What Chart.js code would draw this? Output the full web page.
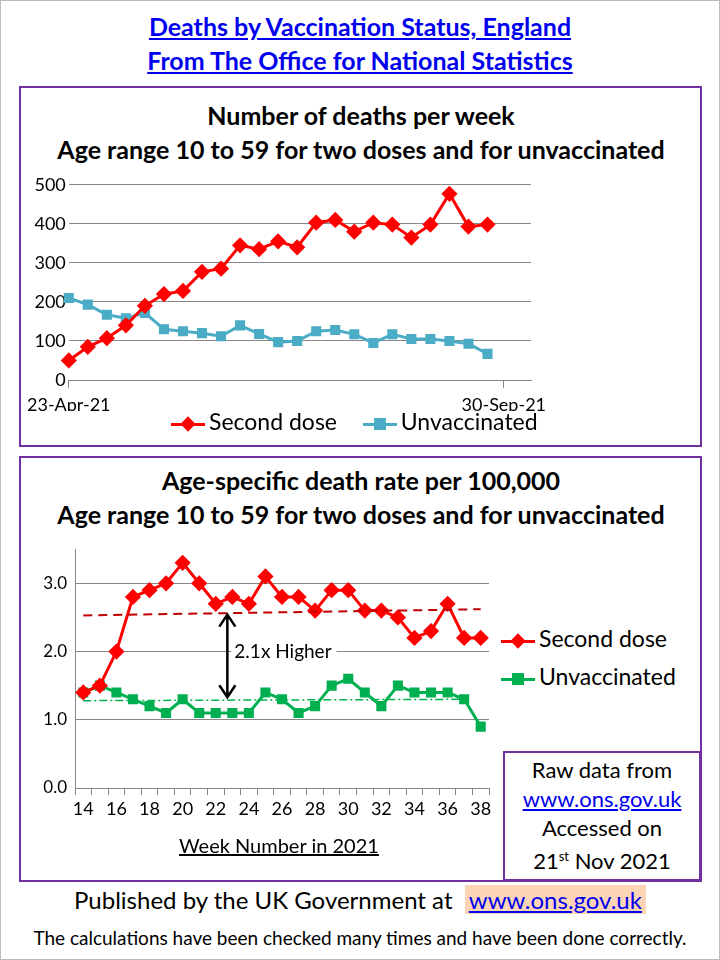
<!DOCTYPE html>
<html>
<head>
<meta charset="utf-8">
<script src="https://cdn.jsdelivr.net/npm/chart.js@4"></script>
<style>
  body { margin: 0; background: #fff; font-family: Lato, "Open Sans", sans-serif; }
  #page { position: relative; width: 718px; height: 958px; border: 1px solid #bbb; overflow: hidden; }
  .abs { position: absolute; }
  .title { left: 0; width: 718px; text-align: center; color: #0000ee; font-weight: bold; font-size: 25px; text-decoration: underline; line-height: 34px; }
  .panel { border: 2.5px solid #7030a0; }
  .ptitle { width: 680px; text-align: center; font-weight: bold; font-size: 25px; line-height: 34px; color: #000; }
  .leg { font-size: 23px; white-space: nowrap; }
  .sw { display: inline-block; position: relative; width: 34px; height: 14px; vertical-align: middle; margin-right: 4px; }
  .sw i { position: absolute; left: 0; right: 0; top: 6px; height: 3px; }
  .sw b { position: absolute; left: 11px; top: 1px; width: 12px; height: 12px; }
  canvas { position: absolute; }
</style>
</head>
<body>
<div id="page">
  <div class="abs title" style="top:8px">Deaths by Vaccination Status, England<br>From The Office for National Statistics</div>

  <div class="abs panel" style="left:18px;top:85px;width:679px;height:357px"></div>
  <div class="abs ptitle" style="left:20px;top:97px">Number of deaths per week<br>Age range 10 to 59 for two doses and for unvaccinated</div>
  <canvas id="c1" style="left:20px;top:170px;width:680px;height:240px"></canvas>
  <div class="abs leg" style="left:170px;top:406px">
    <span class="sw"><i style="background:#ff0000"></i><b style="background:#ff0000;transform:rotate(45deg) scale(0.9)"></b></span>Second dose
    <span style="display:inline-block;width:14px"></span>
    <span class="sw"><i style="background:#4bacc6"></i><b style="background:#4bacc6"></b></span>Unvaccinated
  </div>

  <div class="abs panel" style="left:18px;top:455px;width:679px;height:422px"></div>
  <div class="abs ptitle" style="left:20px;top:462px">Age-specific death rate per 100,000<br>Age range 10 to 59 for two doses and for unvaccinated</div>
  <canvas id="c2" style="left:20px;top:530px;width:480px;height:330px"></canvas>
  <div class="abs" style="left:178px;top:832px;font-size:20px;text-decoration:underline">Week Number in 2021</div>
  <div class="abs leg" style="left:500px;top:618px;line-height:38px">
    <span class="sw"><i style="background:#ff0000"></i><b style="background:#ff0000;transform:rotate(45deg) scale(0.9)"></b></span>Second dose<br>
    <span class="sw"><i style="background:#00b050"></i><b style="background:#00b050"></b></span>Unvaccinated
  </div>
  <div class="abs panel" style="left:502px;top:750px;width:194px;height:126px;background:#fff"></div>
  <div class="abs" style="left:504px;top:754px;width:194px;text-align:center;font-size:22px;line-height:29px">Raw data from<br><span style="color:#0000ee;text-decoration:underline">www.ons.gov.uk</span><br>Accessed on<br>21<sup style="font-size:13px">st</sup> Nov 2021</div>

  <div class="abs" style="left:0;width:718px;top:884px;text-align:center;font-size:24px">Published by the UK Government at &nbsp;<span style="color:#0000ee;text-decoration:underline;background:#fbd5b5;padding:0 4px">www.ons.gov.uk</span></div>
  <div class="abs" style="left:0;width:718px;top:925px;text-align:center;font-size:19px">The calculations have been checked many times and have been done correctly.</div>
</div>
<script>
// ---- top chart data (weekly, from 23-Apr-21) ----
const weeklyDays = [0,7,14,21,28,35,42,49,56,63,70,77,84,91,98,105,112,119,126,133,140,147,154]
const deathsSecondDose = [50,85,107,140,190,220,228,277,285,345,335,355,340,403,410,380,403,398,365,398,477,393,398]
const deathsUnvaccinated = [210,193,167,158,172,130,125,120,112,140,118,97,100,125,128,117,95,117,105,105,100,93,67]
const dateTicks = [0, 160]
const dateTickLabels = ['23-Apr-21', '30-Sep-21']

// ---- bottom chart data (week numbers 14..38) ----
const weekNumbers = ['14','15','16','17','18','19','20','21','22','23','24','25','26','27','28','29','30','31','32','33','34','35','36','37','38']
const rateSecondDose = [1.4,1.5,2.0,2.8,2.9,3.0,3.3,3.0,2.7,2.8,2.7,3.1,2.8,2.8,2.6,2.9,2.9,2.6,2.6,2.5,2.2,2.3,2.7,2.2,2.2]
const rateUnvaccinated = [1.4,1.5,1.4,1.3,1.2,1.1,1.3,1.1,1.1,1.1,1.1,1.4,1.3,1.1,1.2,1.5,1.6,1.4,1.2,1.5,1.4,1.4,1.4,1.3,0.9]
const trendSecondDose = [2.53, 2.62]
const trendUnvaccinated = [1.28, 1.30]
const arrowSpan = [2.57, 1.30]
const arrowWeek = 8.7   // index position between weeks 22 and 23
const ratioLabel = '2.1x Higher'

const FONT = 'Lato, "Open Sans", sans-serif'
Chart.defaults.font.family = FONT
Chart.defaults.color = '#000'
Chart.defaults.animation = false

new Chart(document.getElementById('c1'), {
  type: 'line',
  data: {
    datasets: [{
      data: weeklyDays.map((d, i) => ({ x: d, y: deathsSecondDose[i] })),
      borderColor: '#ff0000', backgroundColor: '#ff0000', borderWidth: 3,
      pointStyle: 'rectRot', pointRadius: 6, clip: false
    }, {
      data: weeklyDays.map((d, i) => ({ x: d, y: deathsUnvaccinated[i] })),
      borderColor: '#4bacc6', backgroundColor: '#4bacc6', borderWidth: 3,
      pointStyle: 'rect', pointRadius: 5, clip: false
    }]
  },
  options: {
    responsive: false,
    layout: { padding: { top: 13, right: 170 } },
    plugins: { legend: { display: false }, tooltip: { enabled: false } },
    scales: {
      x: {
        type: 'linear', min: 0, max: 170,
        afterBuildTicks: s => { s.ticks = dateTicks.map(v => ({ value: v })) },
        afterFit: s => { s.height = 31 },
        ticks: { font: { size: 18 }, callback: (v, i) => dateTickLabels[i], padding: 6 },
        grid: { drawOnChartArea: false, color: '#888', tickLength: 8 },
        border: { color: '#888' }
      },
      y: {
        min: 0, max: 500,
        afterFit: s => { s.width = 47 },
        ticks: { stepSize: 100, font: { size: 18 } },
        grid: { color: '#888', drawTicks: false },
        border: { display: false }
      }
    }
  }
})

const annotate = {
  id: 'annotate',
  afterDatasetsDraw(chart) {
    const { ctx, scales: { x, y } } = chart
    const px = x.getPixelForValue(arrowWeek)
    const y1 = y.getPixelForValue(arrowSpan[0]), y2 = y.getPixelForValue(arrowSpan[1])
    ctx.save()
    ctx.strokeStyle = '#000'; ctx.lineWidth = 2.5
    ctx.beginPath(); ctx.moveTo(px, y1 + 2); ctx.lineTo(px, y2 - 2)
    ctx.moveTo(px - 8, y1 + 14); ctx.lineTo(px, y1 + 2); ctx.lineTo(px + 8, y1 + 14)
    ctx.moveTo(px - 8, y2 - 14); ctx.lineTo(px, y2 - 2); ctx.lineTo(px + 8, y2 - 14)
    ctx.stroke()
    ctx.font = '19px ' + FONT
    const ty = y.getPixelForValue(2.0)
    const w = ctx.measureText(ratioLabel).width
    ctx.fillStyle = '#fff'; ctx.fillRect(px + 4, ty - 12, w + 8, 24)
    ctx.fillStyle = '#000'; ctx.textBaseline = 'middle'
    ctx.fillText(ratioLabel, px + 7, ty)
    ctx.restore()
  }
}

// trend lines: only the end points are set, the rest are gaps that get spanned
const lastIdx = weekNumbers.length - 1
const trendRed = weekNumbers.map((w, i) => i === 0 ? trendSecondDose[0] : i === lastIdx ? trendSecondDose[1] : null)
const trendGreen = weekNumbers.map((w, i) => i === 0 ? trendUnvaccinated[0] : i === lastIdx - 1 ? trendUnvaccinated[1] : null)

new Chart(document.getElementById('c2'), {
  type: 'line',
  data: {
    labels: weekNumbers,
    datasets: [{
      data: trendRed, spanGaps: true,
      borderColor: '#c00000', borderWidth: 2, borderDash: [9, 6], pointRadius: 0
    }, {
      data: trendGreen, spanGaps: true,
      borderColor: '#00b050', borderWidth: 1.5, borderDash: [8, 3, 2, 3], pointRadius: 0
    }, {
      data: rateSecondDose,
      borderColor: '#ff0000', backgroundColor: '#ff0000', borderWidth: 3,
      pointStyle: 'rectRot', pointRadius: 6
    }, {
      data: rateUnvaccinated,
      borderColor: '#00b050', backgroundColor: '#00b050', borderWidth: 3,
      pointStyle: 'rect', pointRadius: 5
    }]
  },
  options: {
    responsive: false,
    layout: { padding: { top: 13, right: 12 } },
    plugins: { legend: { display: false }, tooltip: { enabled: false } },
    scales: {
      x: {
        type: 'category', offset: true,
        afterFit: s => { s.height = 73 },
        ticks: { autoSkip: false, maxRotation: 0, font: { size: 18 },
          callback: (v, i) => (i % 2 === 0 ? weekNumbers[i] : '') },
        grid: { offset: true, drawOnChartArea: false, color: '#888', tickLength: 7 },
        border: { color: '#888' }
      },
      y: {
        min: 0, max: 3.5,
        afterFit: s => { s.width = 54 },
        afterBuildTicks: s => { s.ticks = [0, 1, 2, 3].map(v => ({ value: v })) },
        ticks: { font: { size: 17 }, callback: v => v.toFixed(1), padding: 8 },
        grid: { color: '#888', drawTicks: false },
        border: { color: '#888' }
      }
    }
  },
  plugins: [annotate]
})
</script>
</body>
</html>
